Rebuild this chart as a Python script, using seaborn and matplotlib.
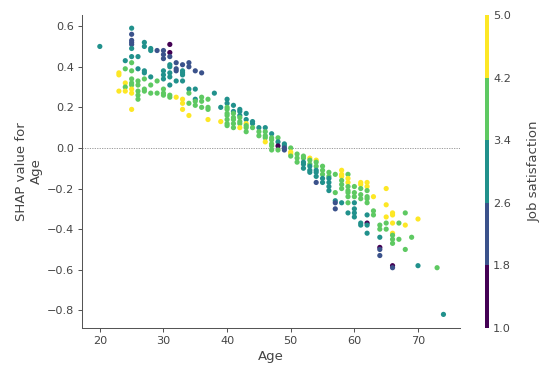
import numpy as np
import pandas as pd
import seaborn as sns
import matplotlib
import matplotlib.pyplot as plt
from matplotlib.colors import ListedColormap, BoundaryNorm

# values (age, SHAP value, job satisfaction level)
age = [20,
       23, 23, 23,
       24, 24, 24, 24, 24,
       25, 25, 25, 25, 25, 25, 25, 25, 25, 25, 25, 25, 25, 25, 25,
       26, 26, 26, 26, 26, 26, 26,
       27, 27, 27, 27, 27, 27, 27,
       28, 28, 28, 28, 28,
       29, 29, 29,
       30, 30, 30, 30, 30, 30, 30, 30, 30,
       31, 31, 31, 31, 31, 31, 31, 31, 31, 31,
       32, 32, 32, 32, 32,
       33, 33, 33, 33, 33, 33, 33, 33,
       34, 34, 34, 34, 34, 34,
       35, 35, 35, 35, 35,
       36, 36, 36, 36,
       37, 37, 37, 37,
       38,
       39, 39,
       40, 40, 40, 40, 40, 40, 40, 40, 40,
       41, 41, 41, 41, 41, 41, 41,
       42, 42, 42, 42, 42, 42, 42,
       43, 43, 43, 43, 43, 43,
       44, 44, 44,
       45, 45, 45,
       46, 46, 46, 46, 46,
       47, 47, 47, 47, 47, 47,
       48, 48, 48, 48,
       49, 49, 49, 49,
       50, 50, 50, 50,
       51, 51, 51,
       52, 52, 52, 52, 52,
       53, 53, 53, 53, 53, 53,
       54, 54, 54, 54, 54, 54, 54,
       55, 55, 55, 55, 55,
       56, 56, 56, 56, 56, 56,
       57, 57, 57, 57, 57,
       58, 58, 58, 58, 58, 58, 58,
       59, 59, 59, 59, 59, 59, 59, 59, 59,
       60, 60, 60, 60, 60, 60, 60,
       61, 61, 61, 61, 61, 61, 61,
       62, 62, 62, 62, 62, 62, 62, 62, 62, 62,
       63, 63, 63,
       64, 64, 64, 64, 64, 64,
       65, 65, 65, 65, 65,
       66, 66, 66, 66, 66, 66, 66, 66, 66,
       67, 67,
       68, 68, 68,
       69,
       70, 70,
       73,
       74]

shap_age = [0.50,
            0.37, 0.36, 0.28,
            0.43, 0.39, 0.32, 0.30, 0.28,
            0.59, 0.56, 0.53, 0.52, 0.51, 0.49, 0.45, 0.42, 0.38, 0.34, 0.32, 0.31, 0.29, 0.27, 0.19,
            0.45, 0.39, 0.33, 0.31, 0.28, 0.26, 0.24,
            0.52, 0.50, 0.38, 0.37, 0.34, 0.29, 0.28,
            0.49, 0.48, 0.35, 0.31, 0.27,
            0.48, 0.33, 0.27,
            0.48, 0.46, 0.44, 0.38, 0.36, 0.34, 0.29, 0.27, 0.26,
            0.51, 0.47, 0.45, 0.41, 0.40, 0.37, 0.35, 0.31, 0.26, 0.25,
            0.42, 0.39, 0.38, 0.33, 0.25,
            0.41, 0.38, 0.37, 0.36, 0.33, 0.24, 0.22, 0.19,
            0.42, 0.40, 0.29, 0.27, 0.22, 0.16,
            0.38, 0.29, 0.24, 0.23, 0.21,
            0.37, 0.25, 0.23, 0.20,
            0.24, 0.20, 0.19, 0.14,
            0.27,
            0.20, 0.13,
            0.24, 0.22, 0.20, 0.19, 0.17, 0.16, 0.14, 0.12, 0.11,
            0.21, 0.18, 0.17, 0.15, 0.14, 0.12, 0.10,
            0.19, 0.18, 0.16, 0.15, 0.13, 0.12, 0.10,
            0.17, 0.14, 0.12, 0.11, 0.10, 0.08,
            0.13, 0.12, 0.10,
            0.10, 0.08, 0.06,
            0.10, 0.08, 0.06, 0.05, 0.03,
            0.07, 0.05, 0.04, 0.02, 0.01, -0.01,
            0.05, 0.03, 0.01, -0.01,
            0.02, 0.01, 0.00, -0.01,
            0.00, -0.02, -0.03, -0.04,
            -0.03, -0.05, -0.07,
            -0.04, -0.05, -0.07, -0.08, -0.10,
            -0.05, -0.06, -0.08, -0.09, -0.11, -0.12,
            -0.06, -0.07, -0.09, -0.11, -0.12, -0.14, -0.17,
            -0.09, -0.11, -0.13, -0.15, -0.17,
            -0.12, -0.14, -0.15, -0.17, -0.19, -0.21,
            -0.13, -0.22, -0.26, -0.27, -0.30,
            -0.11, -0.13, -0.14, -0.16, -0.18, -0.20, -0.27,
            -0.13, -0.15, -0.17, -0.19, -0.21, -0.22, -0.24, -0.27, -0.32,
            -0.19, -0.22, -0.24, -0.27, -0.30, -0.32, -0.34,
            -0.17, -0.18, -0.20, -0.23, -0.25, -0.37, -0.38,
            -0.17, -0.19, -0.21, -0.24, -0.25, -0.27, -0.33, -0.37, -0.38, -0.42,
            -0.24, -0.31, -0.33,
            -0.38, -0.40, -0.44, -0.49, -0.50, -0.53,
            -0.20, -0.28, -0.34, -0.37, -0.40,
            -0.32, -0.33, -0.37, -0.42, -0.43, -0.45, -0.47, -0.58, -0.59,
            -0.37, -0.45,
            -0.32, -0.38, -0.50,
            -0.44,
            -0.35, -0.58,
            -0.59,
            -0.82]

job_sat = [3,
           5, 5, 5,
           3, 4, 5, 4, 5,
           3, 2, 2, 2, 2, 3, 3, 4, 4, 4, 4, 4, 5, 5, 5,
           3, 3, 4, 4, 4, 4, 4,
           3, 3, 3, 3, 4, 4, 4,
           3, 3, 3, 4, 4,
           2, 4, 4,
           2, 2, 2, 3, 3, 3, 4, 4, 4,
           1, 1, 2, 3, 3, 3, 3, 3, 4, 4,
           2, 2, 2, 3, 5,
           2, 3, 3, 3, 3, 5, 5, 5,
           2, 2, 3, 4, 4, 5,
           2, 3, 3, 4, 4,
           2, 4, 4, 4,
           4, 4, 4, 5,
           3,
           3, 5,
           3, 3, 4, 4, 4, 4, 4, 4, 4,
           3, 3, 4, 4, 4, 4, 4,
           3, 3, 3, 4, 4, 4, 5,
           3, 3, 5, 4, 4, 4,
           3, 3, 4,
           3, 4, 4,
           3, 4, 4, 4, 5,
           3, 4, 4, 4, 4, 4,
           4, 3, 1, 4,
           3, 3, 2, 2,
           4, 5, 5, 4,
           4, 4, 4,
           4, 4, 3, 3, 3,
           5, 4, 4, 3, 3, 3,
           5, 4, 4, 3, 3, 3, 2,
           4, 4, 4, 3, 3,
           4, 4, 3, 3, 3, 3,
           4, 4, 3, 2, 2,
           5, 5, 5, 4, 4, 4, 3,
           4, 5, 5, 4, 4, 4, 4, 4, 3,
           4, 4, 4, 3, 3, 3, 3,
           5, 5, 4, 4, 4, 3, 3,
           5, 5, 4, 4, 4, 4, 3, 1, 3, 3,
           5, 4, 4,
           4, 4, 3, 1, 2, 2,
           5, 5, 5, 4, 4,
           5, 5, 5, 5, 4, 4, 4, 1, 2,
           4, 4,
           4, 5, 4,
           4,
           5, 3,
           4,
           3]

cbar_ticks = [1.0, 1.8, 2.6, 3.4, 4.2, 5.0]

df = pd.DataFrame({"Age": age, "SHAP": shap_age, "Job satisfaction": job_sat})

sns.set_theme(style="white")
plt.rcParams["font.family"] = ["DejaVu Sans"]

cmap = ListedColormap(plt.get_cmap("viridis", 5)(np.arange(5)))
norm = BoundaryNorm(cbar_ticks, cmap.N)
pal = {v: cmap(norm(v)) for v in sorted(set(job_sat))}

fig = plt.figure(figsize=(7.5, 376 / (550 / 7.5)), dpi=550 / 7.5)
ax = fig.add_axes([82 / 550, 48 / 376, 378 / 550, 313 / 376])
cax = fig.add_axes([485 / 550, 48 / 376, 4 / 550, 313 / 376])

ax.axhline(0, color="#888888", lw=0.8, ls=(0, (1.5, 1.5)), zorder=0)
sns.scatterplot(data=df, x="Age", y="SHAP", hue="Job satisfaction",
                palette=pal, s=26, linewidth=0, legend=False, ax=ax)

ax.set_xlim(17.2, 76.6)
ax.set_ylim(-0.887, 0.655)
ax.set_xticks([20, 30, 40, 50, 60, 70])
ax.set_yticks([0.6, 0.4, 0.2, 0.0, -0.2, -0.4, -0.6, -0.8])
ax.set_yticklabels(["0.6", "0.4", "0.2", "0.0", "\u22120.2", "\u22120.4", "\u22120.6", "\u22120.8"])
ax.set_xlabel("Age", fontsize=13, color="#444444")
ax.set_ylabel("SHAP value for\nAge", fontsize=13, color="#444444")
ax.tick_params(labelsize=11, labelcolor="#444444", color="#555555",
               length=4, width=1, left=True, bottom=True)
sns.despine(ax=ax)
for sp in ["left", "bottom"]:
    ax.spines[sp].set_color("#555555")
    ax.spines[sp].set_linewidth(1)

sm = matplotlib.cm.ScalarMappable(norm=norm, cmap=cmap)
cb = fig.colorbar(sm, cax=cax, ticks=cbar_ticks)
cb.outline.set_visible(False)
cb.ax.tick_params(labelsize=11, length=0, labelcolor="#444444", pad=4)
cb.ax.set_yticklabels([f"{t:.1f}" for t in cbar_ticks])
cb.set_label("Job satisfaction", fontsize=13, color="#444444", labelpad=16)

fig.savefig("out.png", dpi=550 / 7.5)
